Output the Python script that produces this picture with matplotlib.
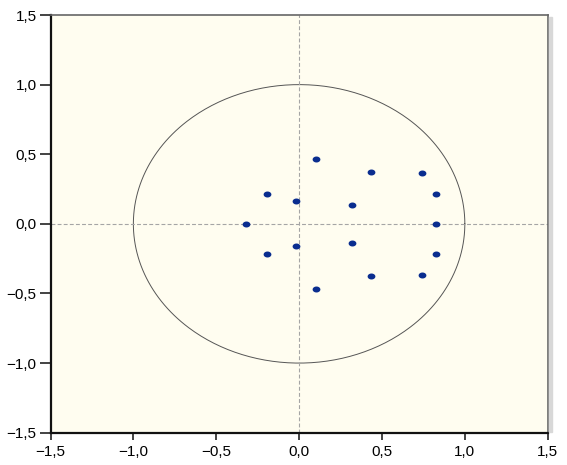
import numpy as np
import matplotlib
matplotlib.use("Agg")
import matplotlib.pyplot as plt
from matplotlib.ticker import FuncFormatter
from matplotlib.patches import Rectangle
from matplotlib.path import Path

# Inverse roots (real, imaginary)
root_re = [0.103, 0.103, 0.431, 0.431, 0.743, 0.743, -0.193, -0.193,
           -0.018, -0.018, 0.320, 0.320, 0.828, 0.828, -0.320, 0.828]
root_im = [0.467, -0.467, 0.373, -0.373, 0.366, -0.366, 0.215, -0.215,
           0.162, -0.162, 0.135, -0.135, 0.213, -0.213, 0.0, 0.0]
ticks = [-1.5, -1.0, -0.5, 0.0, 0.5, 1.0, 1.5]

plt.rcParams['font.family'] = ['Liberation Sans', 'DejaVu Sans']

fig = plt.figure(figsize=(5.67, 4.65), dpi=100)
ax = fig.add_axes([50.5/567, 1 - 432.7/465, (547.7-50.5)/567, (432.7-15)/465])
ax.set_facecolor('#fffdf0')

theta = np.linspace(0, 2*np.pi, 400)
ax.plot(np.cos(theta), np.sin(theta), color='#555555', lw=0.7)
ax.axhline(0, color='#a5a5a5', lw=0.8, ls=(0, (3.5, 2)))
ax.axvline(0, color='#a5a5a5', lw=0.8, ls=(0, (3.5, 2)))

# slightly wide elliptical dot marker
t = np.linspace(0, 2*np.pi, 40)
ell = Path(np.column_stack([1.3*np.cos(t), np.sin(t)]), closed=True)
ax.plot(root_re, root_im, ls='none', marker=ell, color='#0a2d8f', ms=5.6, mec='none')

ax.set_xlim(-1.5, 1.5)
ax.set_ylim(-1.5, 1.5)
ax.set_xticks(ticks)
ax.set_yticks(ticks)
fmt = FuncFormatter(lambda v, p: f"{v:.1f}".replace('.', ',').replace('-', '\u2212'))
ax.xaxis.set_major_formatter(fmt)
ax.yaxis.set_major_formatter(fmt)
ax.tick_params(axis='y', direction='out', length=8, width=1.2, labelsize=11, pad=2, color='#222222')
ax.tick_params(axis='x', direction='out', length=5, width=1.2, labelsize=11, pad=4, color='#222222')

ax.spines['left'].set_linewidth(1.6)
ax.spines['left'].set_color('#111111')
ax.spines['bottom'].set_linewidth(1.6)
ax.spines['bottom'].set_color('#111111')
ax.spines['top'].set_linewidth(1.2)
ax.spines['top'].set_color('#666666')
ax.spines['right'].set_linewidth(1.2)
ax.spines['right'].set_color('#666666')

# light shadow to the right of the frame
fig.patches.append(Rectangle((549/567, 1 - 432/465), 2.5/567, (432-17)/465,
                             transform=fig.transFigure, color='#d8d8d8', zorder=0))

fig.savefig('out.png', dpi=100)
